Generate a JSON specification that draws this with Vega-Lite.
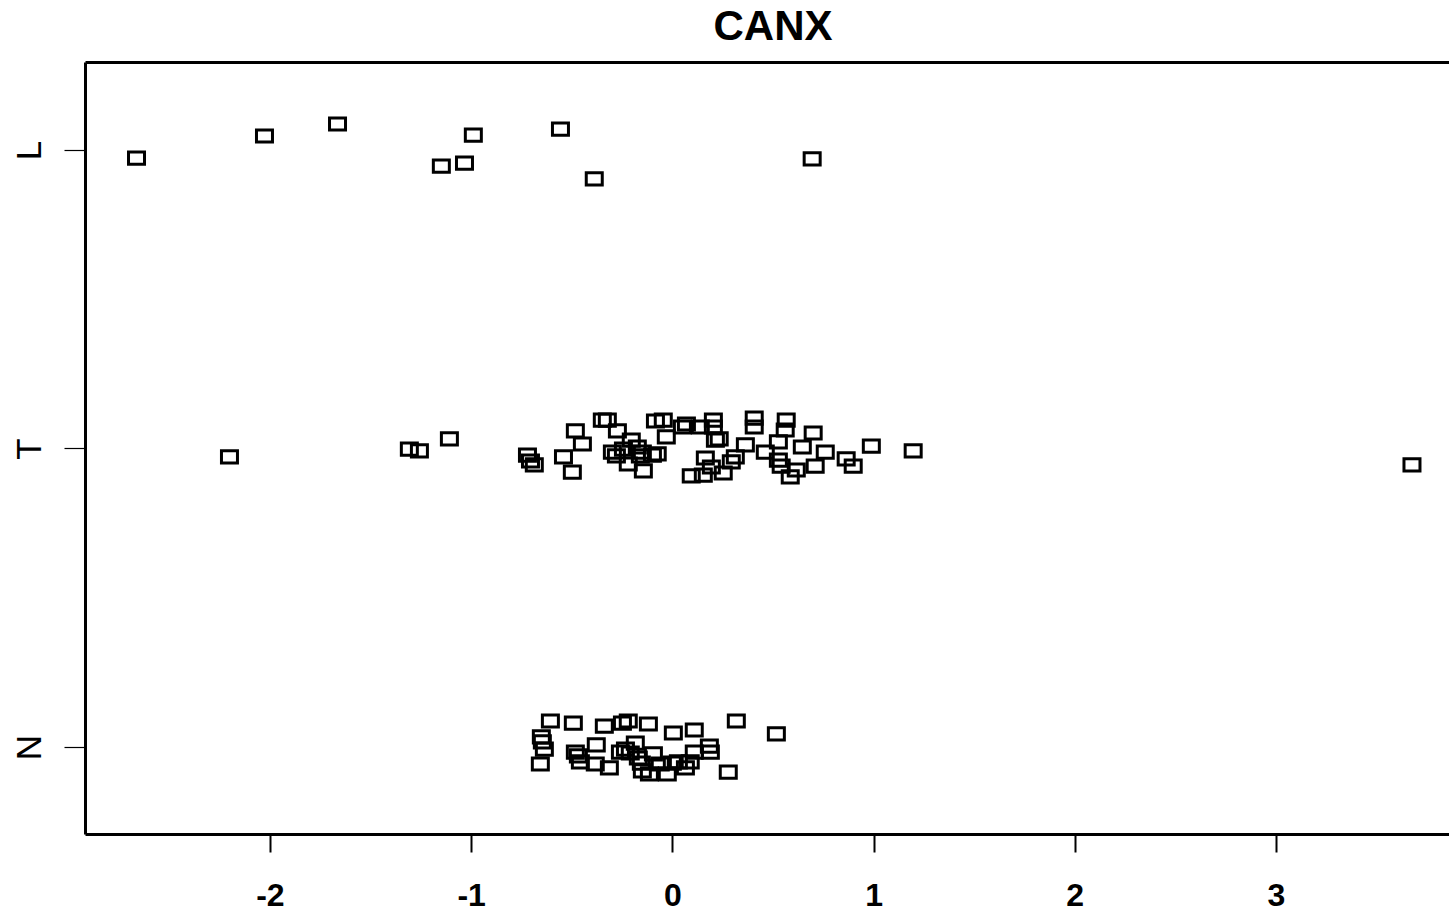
{
  "$schema": "https://vega.github.io/schema/vega-lite/v6.json",
  "autosize": "none",
  "padding": {"left": 85, "top": 62, "right": 0, "bottom": 80},
  "width": 1364,
  "height": 772,
  "background": "white",
  "config": {
    "view": {"stroke": null},
    "font": "Liberation Sans"
  },
  "title": {
    "text": "CANX",
    "font": "Liberation Sans",
    "fontSize": 42,
    "fontWeight": "bold",
    "color": "black",
    "anchor": "middle",
    "baseline": "top",
    "offset": 13,
    "dx": 6
  },
  "data": {
    "values": [
      {"group": "L", "x": -2.663, "y": 2.973},
      {"group": "L", "x": -2.027, "y": 3.047},
      {"group": "L", "x": -1.664, "y": 3.087},
      {"group": "L", "x": -0.989, "y": 3.050},
      {"group": "L", "x": -0.556, "y": 3.070},
      {"group": "L", "x": -1.148, "y": 2.946},
      {"group": "L", "x": -1.033, "y": 2.956},
      {"group": "L", "x": -0.388, "y": 2.903},
      {"group": "L", "x": 0.695, "y": 2.970},
      {"group": "T", "x": -2.201, "y": 1.972},
      {"group": "T", "x": -1.307, "y": 1.998},
      {"group": "T", "x": -1.257, "y": 1.992},
      {"group": "T", "x": -1.108, "y": 2.032},
      {"group": "T", "x": -0.720, "y": 1.978},
      {"group": "T", "x": -0.705, "y": 1.958},
      {"group": "T", "x": -0.686, "y": 1.945},
      {"group": "T", "x": -0.541, "y": 1.972},
      {"group": "T", "x": -0.497, "y": 1.921},
      {"group": "T", "x": -0.482, "y": 2.059},
      {"group": "T", "x": -0.447, "y": 2.015},
      {"group": "T", "x": -0.348, "y": 2.095},
      {"group": "T", "x": -0.323, "y": 2.095},
      {"group": "T", "x": -0.273, "y": 2.059},
      {"group": "T", "x": -0.298, "y": 1.988},
      {"group": "T", "x": -0.278, "y": 1.975},
      {"group": "T", "x": -0.243, "y": 1.998},
      {"group": "T", "x": -0.204, "y": 2.028},
      {"group": "T", "x": -0.174, "y": 2.005},
      {"group": "T", "x": -0.149, "y": 1.988},
      {"group": "T", "x": -0.219, "y": 1.948},
      {"group": "T", "x": -0.144, "y": 1.925},
      {"group": "T", "x": -0.099, "y": 1.978},
      {"group": "T", "x": -0.159, "y": 1.975},
      {"group": "T", "x": -0.084, "y": 2.092},
      {"group": "T", "x": -0.045, "y": 2.095},
      {"group": "T", "x": -0.030, "y": 2.039},
      {"group": "T", "x": -0.075, "y": 1.982},
      {"group": "T", "x": 0.050, "y": 2.072},
      {"group": "T", "x": 0.070, "y": 2.082},
      {"group": "T", "x": 0.139, "y": 2.072},
      {"group": "T", "x": 0.204, "y": 2.095},
      {"group": "T", "x": 0.204, "y": 2.072},
      {"group": "T", "x": 0.214, "y": 2.028},
      {"group": "T", "x": 0.094, "y": 1.908},
      {"group": "T", "x": 0.164, "y": 1.968},
      {"group": "T", "x": 0.154, "y": 1.911},
      {"group": "T", "x": 0.233, "y": 2.032},
      {"group": "T", "x": 0.253, "y": 1.918},
      {"group": "T", "x": 0.194, "y": 1.938},
      {"group": "T", "x": 0.313, "y": 1.972},
      {"group": "T", "x": 0.293, "y": 1.955},
      {"group": "T", "x": 0.363, "y": 2.012},
      {"group": "T", "x": 0.407, "y": 2.102},
      {"group": "T", "x": 0.407, "y": 2.072},
      {"group": "T", "x": 0.462, "y": 1.988},
      {"group": "T", "x": 0.527, "y": 2.022},
      {"group": "T", "x": 0.527, "y": 1.961},
      {"group": "T", "x": 0.541, "y": 1.941},
      {"group": "T", "x": 0.566, "y": 2.095},
      {"group": "T", "x": 0.561, "y": 2.062},
      {"group": "T", "x": 0.586, "y": 1.905},
      {"group": "T", "x": 0.616, "y": 1.928},
      {"group": "T", "x": 0.646, "y": 2.005},
      {"group": "T", "x": 0.700, "y": 2.052},
      {"group": "T", "x": 0.710, "y": 1.941},
      {"group": "T", "x": 0.760, "y": 1.988},
      {"group": "T", "x": 0.864, "y": 1.965},
      {"group": "T", "x": 0.899, "y": 1.941},
      {"group": "T", "x": 0.989, "y": 2.008},
      {"group": "T", "x": 1.197, "y": 1.992},
      {"group": "T", "x": 3.676, "y": 1.945},
      {"group": "N", "x": -0.606, "y": 1.087},
      {"group": "N", "x": -0.492, "y": 1.080},
      {"group": "N", "x": -0.338, "y": 1.070},
      {"group": "N", "x": -0.248, "y": 1.080},
      {"group": "N", "x": -0.219, "y": 1.087},
      {"group": "N", "x": -0.119, "y": 1.077},
      {"group": "N", "x": 0.005, "y": 1.047},
      {"group": "N", "x": 0.109, "y": 1.057},
      {"group": "N", "x": 0.318, "y": 1.087},
      {"group": "N", "x": 0.517, "y": 1.044},
      {"group": "N", "x": -0.651, "y": 1.034},
      {"group": "N", "x": -0.646, "y": 1.017},
      {"group": "N", "x": -0.636, "y": 0.993},
      {"group": "N", "x": -0.656, "y": 0.943},
      {"group": "N", "x": -0.482, "y": 0.983},
      {"group": "N", "x": -0.467, "y": 0.970},
      {"group": "N", "x": -0.457, "y": 0.950},
      {"group": "N", "x": -0.378, "y": 1.007},
      {"group": "N", "x": -0.383, "y": 0.943},
      {"group": "N", "x": -0.313, "y": 0.930},
      {"group": "N", "x": -0.233, "y": 0.993},
      {"group": "N", "x": -0.209, "y": 0.980},
      {"group": "N", "x": -0.184, "y": 1.013},
      {"group": "N", "x": -0.169, "y": 0.963},
      {"group": "N", "x": -0.154, "y": 0.946},
      {"group": "N", "x": -0.094, "y": 0.977},
      {"group": "N", "x": -0.149, "y": 0.920},
      {"group": "N", "x": -0.114, "y": 0.910},
      {"group": "N", "x": -0.025, "y": 0.910},
      {"group": "N", "x": 0.000, "y": 0.946},
      {"group": "N", "x": 0.065, "y": 0.930},
      {"group": "N", "x": 0.089, "y": 0.950},
      {"group": "N", "x": 0.109, "y": 0.983},
      {"group": "N", "x": 0.184, "y": 1.003},
      {"group": "N", "x": 0.189, "y": 0.983},
      {"group": "N", "x": 0.278, "y": 0.916},
      {"group": "N", "x": -0.258, "y": 0.983},
      {"group": "N", "x": -0.060, "y": 0.943},
      {"group": "N", "x": 0.030, "y": 0.950}
    ]
  },
  "layer": [
    {
      "mark": {
        "type": "point",
        "shape": "M-1,-0.76H1V0.76H-1Z",
        "size": 256,
        "filled": false,
        "stroke": "black",
        "strokeWidth": 3,
        "opacity": 1
      },
      "encoding": {
        "x": {
          "field": "x",
          "type": "quantitative",
          "scale": {"domain": [-2.919, 3.86], "nice": false, "zero": false},
          "axis": {
            "title": null,
            "values": [-2, -1, 0, 1, 2, 3],
            "labelExpr": "datum.value + ''",
            "grid": false,
            "domain": true,
            "domainColor": "black",
            "domainWidth": 3,
            "ticks": true,
            "tickColor": "black",
            "tickWidth": 2,
            "tickSize": 18,
            "labelFont": "Liberation Sans",
            "labelFontSize": 32,
            "labelFontWeight": "bold",
            "labelColor": "black",
            "labelBaseline": "alphabetic",
            "labelPadding": 53,
            "labelFlush": false,
            "labelOverlap": false
          }
        },
        "y": {
          "field": "y",
          "type": "quantitative",
          "scale": {"domain": [0.7085, 3.2948], "nice": false, "zero": false},
          "axis": {
            "title": null,
            "values": [1, 2, 3],
            "labelExpr": "datum.value == 1 ? 'N' : datum.value == 2 ? 'T' : 'L'",
            "grid": false,
            "domain": true,
            "domainColor": "black",
            "domainWidth": 3,
            "ticks": true,
            "tickColor": "black",
            "tickWidth": 1.2,
            "tickSize": 21,
            "labelFont": "Liberation Sans",
            "labelFontSize": 35,
            "labelColor": "black",
            "labelAngle": 270,
            "labelAlign": "center",
            "labelBaseline": "alphabetic",
            "labelPadding": 24,
            "labelFlush": false,
            "labelOverlap": false
          }
        }
      }
    },
    {
      "mark": {"type": "point", "opacity": 0, "size": 1},
      "encoding": {
        "x": {
          "field": "x",
          "type": "quantitative",
          "axis": {
            "orient": "top",
            "title": null,
            "labels": false,
            "ticks": false,
            "grid": false,
            "domain": true,
            "domainColor": "black",
            "domainWidth": 3
          }
        },
        "y": {"field": "y", "type": "quantitative"}
      }
    }
  ],
  "resolve": {"axis": {"x": "independent"}}
}
